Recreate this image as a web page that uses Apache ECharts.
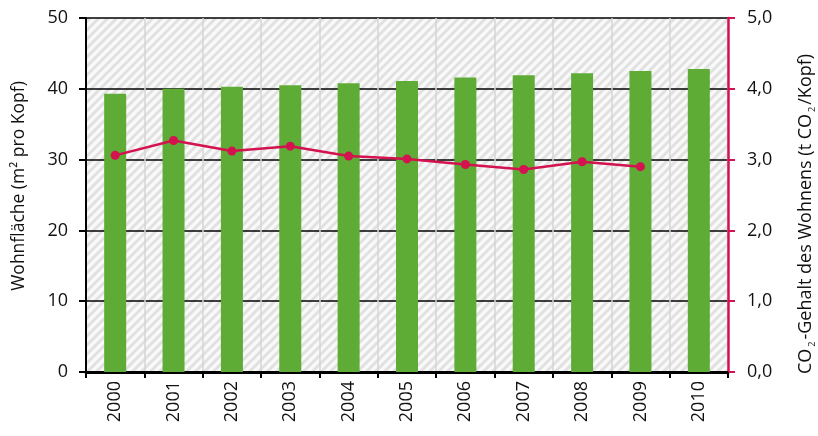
<!DOCTYPE html>
<html>
<head>
<meta charset="utf-8">
<script src="https://cdn.jsdelivr.net/npm/echarts@6/dist/echarts.min.js"></script>
<style>
  html, body { margin: 0; padding: 0; background: #ffffff; }
  #chart { width: 818px; height: 436px; }
</style>
</head>
<body>
<div id="chart"></div>
<script>
// Years on the category axis
const years = ['2000', '2001', '2002', '2003', '2004', '2005', '2006', '2007', '2008', '2009', '2010'];
// Living space per person (m²)
const wohnflaeche = [39.3, 40.0, 40.3, 40.5, 40.8, 41.1, 41.6, 41.9, 42.2, 42.5, 42.8];
// CO2 content of housing per person (t CO2), no value for 2010
const co2Gehalt = [3.06, 3.27, 3.12, 3.19, 3.05, 3.01, 2.93, 2.86, 2.97, 2.90, null];
// Axis tick values
const leftTicks = [0, 10, 20, 30, 40, 50];
const rightTicks = [0, 1, 2, 3, 4, 5];

const FONT = '"Open Sans", "Noto Sans", sans-serif';
const RED = '#d3124f';
const GREEN = '#5eab36';

// Diagonal hatch fill for the plotting area
function hatchPattern() {
  const s = 9;
  const c = document.createElement('canvas');
  c.width = s; c.height = s;
  const g = c.getContext('2d');
  g.fillStyle = '#f9f9f9';
  g.fillRect(0, 0, s, s);
  g.strokeStyle = '#e1e1e1';
  g.lineWidth = 3;
  g.beginPath();
  g.moveTo(0, s); g.lineTo(s, 0);
  g.moveTo(-s / 2, s / 2); g.lineTo(s / 2, -s / 2);
  g.moveTo(s / 2, s * 1.5); g.lineTo(s * 1.5, s / 2);
  g.stroke();
  return c;
}

const chart = echarts.init(document.getElementById('chart'), null, { renderer: 'canvas' });

chart.setOption({
  animation: false,
  backgroundColor: '#ffffff',
  grid: {
    left: 86, right: 90, top: 18, bottom: 64,
    show: true,
    borderWidth: 0,
    backgroundColor: { image: hatchPattern(), repeat: 'repeat' }
  },
  xAxis: {
    type: 'category',
    data: years,
    boundaryGap: true,
    axisLine: { show: true, lineStyle: { color: '#000', width: 3 } },
    axisTick: { show: true, length: 6, lineStyle: { color: '#000', width: 2 } },
    axisLabel: {
      rotate: 90, margin: 9, color: '#111',
      fontFamily: FONT, fontSize: 18
    },
    splitLine: { show: true, lineStyle: { color: '#d4d4d4', width: 1.5 } }
  },
  yAxis: [
    {
      type: 'value',
      min: leftTicks[0], max: leftTicks[leftTicks.length - 1], interval: 10,
      position: 'left',
      axisLine: { show: true, lineStyle: { color: '#000', width: 2 } },
      axisTick: { show: true, length: 7, lineStyle: { color: '#000', width: 2 } },
      axisLabel: { margin: 18, color: '#111', fontFamily: FONT, fontSize: 18 },
      splitLine: { show: true, lineStyle: { color: '#000', width: 1.5 } }
    },
    {
      type: 'value',
      min: rightTicks[0], max: rightTicks[rightTicks.length - 1], interval: 1,
      position: 'right',
      axisLine: { show: true, lineStyle: { color: RED, width: 2.5 } },
      axisTick: { show: true, length: 7, lineStyle: { color: RED, width: 2 } },
      axisLabel: {
        margin: 19, color: '#111', fontFamily: FONT, fontSize: 18,
        formatter: v => v.toFixed(1).replace('.', ',')
      },
      splitLine: { show: false }
    }
  ],
  // Axis titles, rotated to read upwards; the right one carries subscript digits
  graphic: [
    {
      type: 'text',
      x: 19, y: 186,
      rotation: Math.PI / 2,
      style: {
        text: 'Wohnfläche (m² pro Kopf)',
        align: 'center',
        verticalAlign: 'middle',
        font: '17.5px ' + FONT,
        fill: '#111'
      }
    },
    {
      type: 'text',
      x: 806, y: 214,
      rotation: Math.PI / 2,
      style: {
        text: '{t|CO}{s|2}{t|-Gehalt des Wohnens (t CO}{s|2}{t|/Kopf)}',
        align: 'center',
        verticalAlign: 'middle',
        rich: {
          t: { fontFamily: FONT, fontSize: 18, fill: '#111' },
          s: { fontFamily: FONT, fontSize: 9, fill: '#111', padding: [13, 2, 0, 2] }
        }
      }
    }
  ],
  series: [
    {
      type: 'bar',
      yAxisIndex: 0,
      data: wohnflaeche,
      barWidth: 22,
      itemStyle: { color: GREEN },
      z: 2
    },
    {
      type: 'line',
      yAxisIndex: 1,
      data: co2Gehalt,
      symbol: 'circle',
      symbolSize: 9,
      lineStyle: { color: RED, width: 2.5 },
      itemStyle: { color: RED },
      z: 3
    }
  ]
});
</script>
</body>
</html>
